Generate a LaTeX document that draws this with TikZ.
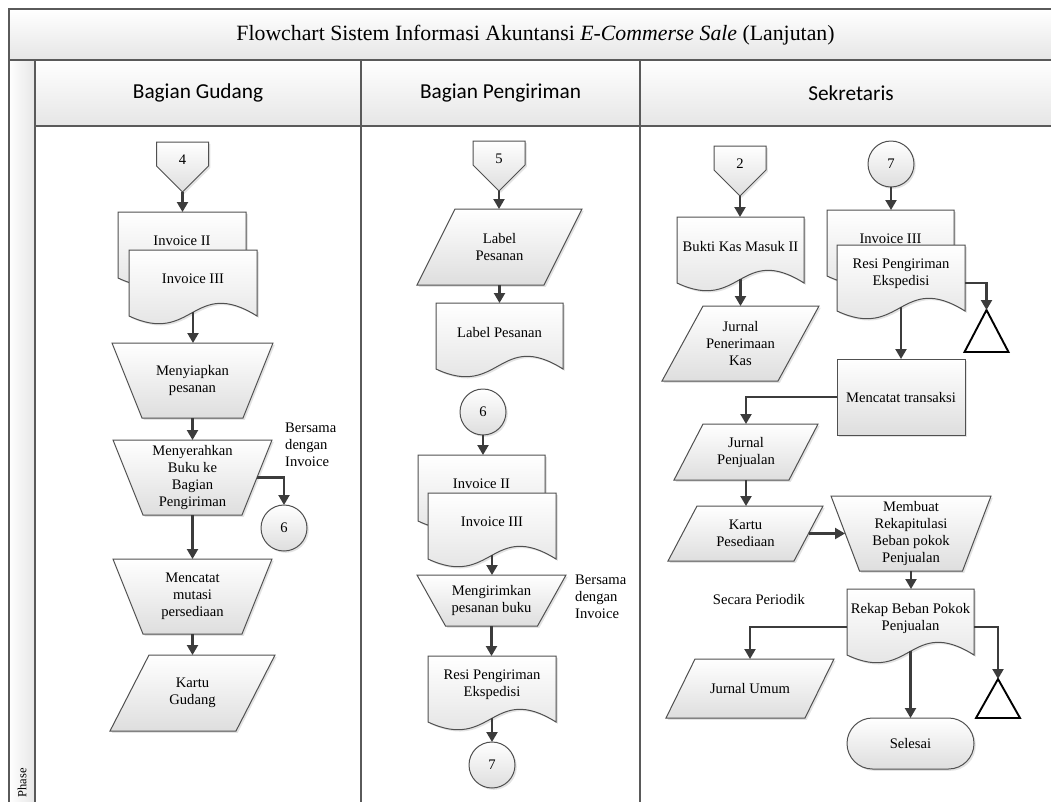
\documentclass[tikz,border=0pt]{standalone}
\usepackage{fontspec}
\setmainfont{Liberation Serif}
\newfontfamily\lanefont{Carlito}
\usetikzlibrary{calc,arrows.meta,shadows}
\pgfdeclarelayer{bg}
\pgfsetlayers{bg,main}

\definecolor{edge}{HTML}{505050}
\definecolor{wire}{HTML}{3C3C3C}
\definecolor{frameline}{HTML}{5A5A5A}
\definecolor{shadebot}{HTML}{DEDEDE}
\definecolor{bandbot}{HTML}{E6E6E6}

\tikzset{
  box/.style={inner sep=0pt, outer sep=0pt, align=center, font=\fontsize{14.6}{17}\selectfont},
  shapefill/.style={draw=edge, line width=1pt, top color=white, bottom color=shadebot,
    drop shadow={shadow xshift=1.8pt, shadow yshift=-1.8pt, opacity=0.22}},
  conn/.style={draw=wire, line width=2.1pt, -{Triangle[length=10pt,width=11pt]}},
  storage/.style={draw=black, line width=1.9pt, fill=white},
  note/.style={inner sep=0pt, align=left, font=\fontsize{14.6}{17}\selectfont},
  lanehead/.style={inner sep=0pt, font=\lanefont\fontsize{21.3}{25}\selectfont},
  frame/.style={draw=frameline, line width=1.4pt},
}

% off-page connector: name, x, y, text
\newcommand\OffPage[4]{%
  \node[box, minimum width=52, minimum height=36] (#1) at (#2,#3) {#4};
  \begin{pgfonlayer}{bg}
    \path[shapefill] (#1.north west) -- (#1.north east) -- ($(#1.north east)+(0,24)$)
      -- ($(#1.south)+(0,14)$) -- ($(#1.north west)+(0,24)$) -- cycle;
  \end{pgfonlayer}}
% document: name, x, y, width, text
\newcommand\DocNode[5]{%
  \node[box, minimum width=#4, minimum height=58] (#1) at (#2,#3) {#5};
  \begin{pgfonlayer}{bg}
    \path[shapefill] (#1.north west) -- (#1.north east) -- ($(#1.south east)+(0,8)$)
      .. controls ($(#1.south)+(0,-32)$) and ($(#1.south)+(0,38)$) .. ($(#1.south west)+(0,8)$) -- cycle;
  \end{pgfonlayer}}
% data (parallelogram): name, x, y, width, height, slant, text
\newcommand\DataNode[7]{%
  \node[box, minimum width=#4, minimum height=#5] (#1) at (#2,#3) {#7};
  \begin{pgfonlayer}{bg}
    \path[shapefill] ($(#1.north west)+(#6,0)$) -- (#1.north east) -- ($(#1.south east)+(-#6,0)$)
      -- (#1.south west) -- cycle;
  \end{pgfonlayer}}
% manual operation (trapezoid): name, x, y, width, height, inset, text
\newcommand\ManualNode[7]{%
  \node[box, minimum width=#4, minimum height=#5] (#1) at (#2,#3) {#7};
  \begin{pgfonlayer}{bg}
    \path[shapefill] (#1.north west) -- (#1.north east) -- ($(#1.south east)+(-#6,0)$)
      -- ($(#1.south west)+(#6,0)$) -- cycle;
  \end{pgfonlayer}}
% offline storage (triangle): name, x, y, width, height
\newcommand\StoreNode[5]{%
  \node[box, minimum width=#4, minimum height=#5] (#1) at (#2,#3) {};
  \path[storage] (#1.south west) -- (#1.north) -- (#1.south east) -- cycle;}

\begin{document}
\begin{tikzpicture}[x=1pt,y=-1pt]
\useasboundingbox (0,0) rectangle (1051,801);

% swimlane frame
\begin{pgfonlayer}{bg}
  \fill[white] (0,0) rectangle (1051,801);
  \shade[top color=white, bottom color=bandbot] (9,9) rectangle (1070,60);
  \shade[top color=white, bottom color=bandbot] (35,60) rectangle (1070,126);
  \shade[left color=white, right color=bandbot] (9,60) rectangle (35,820);
  \path[frame] (1070,9) -- (9,9) -- (9,820);
  \path[frame] (9,60) -- (1070,60);
  \path[frame] (35,126) -- (1070,126);
  \path[frame] (35,60) -- (35,820);
  \path[frame] (361,60) -- (361,820);
  \path[frame] (640,60) -- (640,820);
\end{pgfonlayer}

\node[inner sep=0pt, font=\fontsize{21.8}{25}\selectfont] (title) at (535.5,35)
  {Flowchart Sistem Informasi Akuntansi \textit{E-Commerse Sale} (Lanjutan)};
\node[lanehead] (hGudang) at (198,93) {Bagian Gudang};
\node[lanehead] (hKirim) at (500.5,93) {Bagian Pengiriman};
\node[lanehead] (hSekr) at (851,93) {Sekretaris};
\node[inner sep=0pt, rotate=90, font=\fontsize{12.5}{14}\selectfont] (phase) at (22,783) {Phase};

% ---- Bagian Gudang ----
\OffPage{off4}{182.5}{160}{4}
\DocNode{gInv2}{182}{241}{128}{Invoice II}
\DocNode{gInv3}{193}{279}{128}{Invoice III}
\ManualNode{gSiap}{192.5}{380.5}{161}{75}{30}{Menyiapkan\\pesanan}
\ManualNode{gSerah}{192.5}{477.5}{159}{75}{30}{Menyerahkan\\Buku ke\\Bagian\\Pengiriman}
\ManualNode{gCatat}{192.5}{596.5}{159}{75}{30}{Mencatat\\mutasi\\persediaan}
\DataNode{gKartu}{192.5}{693}{165}{76}{39}{Kartu\\Gudang}
\node[box, circle, shapefill, minimum size=46] (gC6) at (284,528) {6};
\node[note, anchor=west] (gNote) at (285,445) {Bersama\\dengan\\Invoice};

\draw[conn] ($(off4.south)+(0,14)$) -- (off4.south |- gInv2.north);
\draw[conn] ($(gInv3.south)+(0,4)$) -- (gInv3.south |- gSiap.north);
\draw[conn] (gSiap.south) -- (gSerah.north);
\draw[conn] (gSerah.south) -- (gCatat.north);
\draw[conn] (gCatat.south) -- (gKartu.north);
\draw[conn] ($(gSerah.east)+(-15,0)$) -| (gC6.north);

% ---- Bagian Pengiriman ----
\OffPage{off5}{499}{159}{5}
\DataNode{pLabelIn}{499.5}{247}{165}{76}{38}{Label\\Pesanan}
\DocNode{pLabelDoc}{499.5}{332}{127}{Label Pesanan}
\node[box, circle, shapefill, minimum size=46] (pC6) at (483,412) {6};
\DocNode{pInv2}{481.5}{484}{127}{Invoice II}
\DocNode{pInv3}{492}{522}{128}{Invoice III}
\ManualNode{pKirim}{491.5}{600.5}{149}{51}{28.5}{Mengirimkan\\pesanan buku}
\node[note, anchor=west] (pNote) at (575,597) {Bersama\\dengan\\Invoice};
\DocNode{pResi}{492}{685}{128}{Resi Pengiriman\\Ekspedisi}
\node[box, circle, shapefill, minimum size=46] (pC7) at (492,765) {7};

\draw[conn] ($(off5.south)+(0,14)$) -- (off5.south |- pLabelIn.north);
\draw[conn] (pLabelIn.south) -- (pLabelDoc.north);
\draw[conn] (pC6.south) -- (pC6.south |- pInv2.north);
\draw[conn] ($(pInv3.south)+(0,4)$) -- (pInv3.south |- pKirim.north);
\draw[conn] (pKirim.south) -- (pKirim.south |- pResi.north);
\draw[conn] ($(pResi.south)+(0,4)$) -- (pC7.north);

% ---- Sekretaris ----
\OffPage{off2}{740}{164}{2}
\DocNode{sBukti}{740.5}{246}{127}{Bukti Kas Masuk II}
\DataNode{sJPK}{740.5}{343.5}{157}{75}{41}{Jurnal\\Penerimaan\\Kas}
\node[box, circle, shapefill, minimum size=46] (sC7) at (891,164) {7};
\DocNode{sInv3}{890.5}{239}{127}{Invoice III}
\DocNode{sResi}{901}{274}{128}{Resi Pengiriman\\Ekspedisi}
\StoreNode{sTri1}{986.5}{331}{44}{42}
\node[box, rectangle, shapefill, minimum width=128, minimum height=76] (sCatat) at (901,397) {Mencatat transaksi};
\DataNode{sJP}{746}{452}{144}{56}{29}{Jurnal\\Penjualan}
\DataNode{sKP}{745.5}{533.5}{155}{55}{29}{Kartu\\Pesediaan}
\ManualNode{sRekap}{911}{533.5}{160}{75}{28.5}{Membuat\\Rekapitulasi\\Beban pokok\\Penjualan}
\DocNode{sRBP}{910.5}{618}{127}{Rekap Beban Pokok\\Penjualan}
\node[note] (sNote) at (759,599) {Secara Periodik};
\DataNode{sJU}{750}{688.5}{168}{59}{29}{Jurnal Umum}
\StoreNode{sTri2}{998}{698.5}{44}{39}
\node[box, rectangle, rounded corners=25.5pt, shapefill, minimum width=127, minimum height=51] (sEnd) at (910.5,743.5) {Selesai};

\draw[conn] ($(off2.south)+(0,14)$) -- (off2.south |- sBukti.north);
\draw[conn] ($(sBukti.south)+(0,4)$) -- (sBukti.south |- sJPK.north);
\draw[conn] (sC7.south) -- (sC7.south |- sInv3.north);
\draw[conn] ($(sResi.east)+(0,9)$) -| (sTri1.north);
\draw[conn] ($(sResi.south)+(0,4)$) -- (sResi.south |- sCatat.north);
\draw[conn] (sCatat.west) -| (sJP.north);
\draw[conn] (sJP.south) -- (sJP.south |- sKP.north);
\draw[conn] ($(sKP.east)+(-14.5,0)$) -- ($(sRekap.west)+(14,0)$);
\draw[conn] (sRekap.south) -- (sRekap.south |- sRBP.north);
\draw[conn] ($(sRBP.west)+(0,9)$) -| (sJU.north);
\draw[conn] ($(sRBP.east)+(0,9)$) -| (sTri2.north);
\draw[conn] ($(sRBP.south)+(0,4)$) -- (sRBP.south |- sEnd.north);
\end{tikzpicture}
\end{document}
